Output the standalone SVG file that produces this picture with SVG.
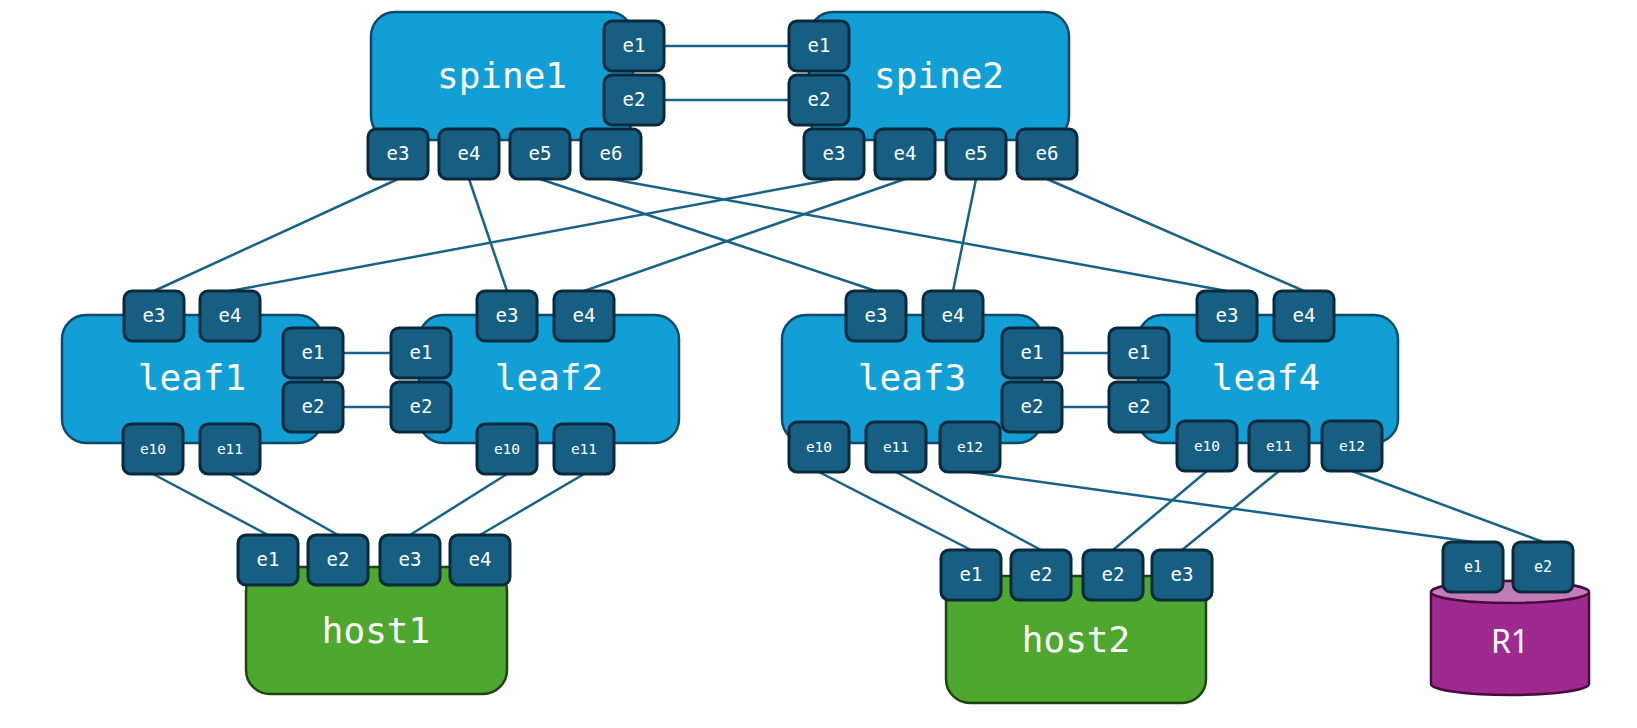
<svg xmlns="http://www.w3.org/2000/svg" width="1637" height="728" viewBox="0 0 1637 728">
<style>
.node{fill:#129fd6;stroke:#0f4a68;stroke-width:2.5}
.host{fill:#4ea72e;stroke:#1c4510;stroke-width:2.5}
.port{fill:#165f82;stroke:#0a2a3c;stroke-width:3}
.lbl{font-family:"DejaVu Sans Mono","Liberation Mono",monospace;font-size:36px;fill:#ffffff;text-anchor:middle}
.pl{font-family:"DejaVu Sans Mono","Liberation Mono",monospace;font-size:19px;fill:#ffffff;text-anchor:middle}
.ps{font-family:"DejaVu Sans Mono","Liberation Mono",monospace;font-size:14.5px;fill:#ffffff;text-anchor:middle}
.cn line{stroke:#176388;stroke-width:2.5}
</style>
<defs>
<rect id="p" width="60" height="50" rx="8" class="port"/>
</defs>
<g id="connectors" class="cn">
<line x1="664" y1="46" x2="789" y2="46"/>
<line x1="664" y1="100" x2="789" y2="100"/>
<line x1="343" y1="353" x2="391" y2="353"/>
<line x1="343" y1="407" x2="391" y2="407"/>
<line x1="1062" y1="353" x2="1109" y2="353"/>
<line x1="1062" y1="407" x2="1109" y2="407"/>
<line x1="398" y1="179" x2="154" y2="291"/>
<line x1="469" y1="179" x2="507" y2="291"/>
<line x1="540" y1="179" x2="876" y2="291"/>
<line x1="611" y1="179" x2="1227" y2="291"/>
<line x1="834" y1="179" x2="230" y2="291"/>
<line x1="905" y1="179" x2="584" y2="291"/>
<line x1="976" y1="179" x2="953" y2="291"/>
<line x1="1047" y1="179" x2="1304" y2="291"/>
<line x1="153" y1="474" x2="268" y2="535"/>
<line x1="230" y1="474" x2="338" y2="535"/>
<line x1="507" y1="474" x2="410" y2="535"/>
<line x1="584" y1="474" x2="480" y2="535"/>
<line x1="819" y1="472" x2="971" y2="550"/>
<line x1="896" y1="472" x2="1041" y2="550"/>
<line x1="970" y1="472" x2="1473" y2="542"/>
<line x1="1207" y1="471" x2="1113" y2="550"/>
<line x1="1279" y1="471" x2="1182" y2="550"/>
<line x1="1352" y1="471" x2="1543" y2="542"/>
</g>
<g id="spine1">
<rect x="371" y="12" width="262" height="128" rx="24" class="node"/>
<text x="502" y="88" class="lbl">spine1</text>
<use href="#p" x="604" y="21"/><text x="634" y="52" class="pl">e1</text>
<use href="#p" x="604" y="75"/><text x="634" y="106" class="pl">e2</text>
<use href="#p" x="368" y="129"/><text x="398" y="160" class="pl">e3</text>
<use href="#p" x="439" y="129"/><text x="469" y="160" class="pl">e4</text>
<use href="#p" x="510" y="129"/><text x="540" y="160" class="pl">e5</text>
<use href="#p" x="581" y="129"/><text x="611" y="160" class="pl">e6</text>
</g>
<g id="spine2">
<rect x="809" y="12" width="260" height="128" rx="24" class="node"/>
<text x="939" y="88" class="lbl">spine2</text>
<use href="#p" x="789" y="21"/><text x="819" y="52" class="pl">e1</text>
<use href="#p" x="789" y="75"/><text x="819" y="106" class="pl">e2</text>
<use href="#p" x="804" y="129"/><text x="834" y="160" class="pl">e3</text>
<use href="#p" x="875" y="129"/><text x="905" y="160" class="pl">e4</text>
<use href="#p" x="946" y="129"/><text x="976" y="160" class="pl">e5</text>
<use href="#p" x="1017" y="129"/><text x="1047" y="160" class="pl">e6</text>
</g>
<g id="leaf1">
<rect x="62" y="315" width="260" height="128" rx="24" class="node"/>
<text x="192" y="390" class="lbl">leaf1</text>
<use href="#p" x="124" y="291"/><text x="154" y="322" class="pl">e3</text>
<use href="#p" x="200" y="291"/><text x="230" y="322" class="pl">e4</text>
<use href="#p" x="283" y="328"/><text x="313" y="359" class="pl">e1</text>
<use href="#p" x="283" y="382"/><text x="313" y="413" class="pl">e2</text>
<use href="#p" x="123" y="424"/><text x="153" y="454" class="ps">e10</text>
<use href="#p" x="200" y="424"/><text x="230" y="454" class="ps">e11</text>
</g>
<g id="leaf2">
<rect x="419" y="315" width="260" height="128" rx="24" class="node"/>
<text x="549" y="390" class="lbl">leaf2</text>
<use href="#p" x="477" y="291"/><text x="507" y="322" class="pl">e3</text>
<use href="#p" x="554" y="291"/><text x="584" y="322" class="pl">e4</text>
<use href="#p" x="391" y="328"/><text x="421" y="359" class="pl">e1</text>
<use href="#p" x="391" y="382"/><text x="421" y="413" class="pl">e2</text>
<use href="#p" x="477" y="424"/><text x="507" y="454" class="ps">e10</text>
<use href="#p" x="554" y="424"/><text x="584" y="454" class="ps">e11</text>
</g>
<g id="leaf3">
<rect x="782" y="315" width="260" height="128" rx="24" class="node"/>
<text x="912" y="390" class="lbl">leaf3</text>
<use href="#p" x="846" y="291"/><text x="876" y="322" class="pl">e3</text>
<use href="#p" x="923" y="291"/><text x="953" y="322" class="pl">e4</text>
<use href="#p" x="1002" y="328"/><text x="1032" y="359" class="pl">e1</text>
<use href="#p" x="1002" y="382"/><text x="1032" y="413" class="pl">e2</text>
<use href="#p" x="789" y="422"/><text x="819" y="452" class="ps">e10</text>
<use href="#p" x="866" y="422"/><text x="896" y="452" class="ps">e11</text>
<use href="#p" x="940" y="422"/><text x="970" y="452" class="ps">e12</text>
</g>
<g id="leaf4">
<rect x="1138" y="315" width="260" height="128" rx="24" class="node"/>
<text x="1266" y="390" class="lbl">leaf4</text>
<use href="#p" x="1197" y="291"/><text x="1227" y="322" class="pl">e3</text>
<use href="#p" x="1274" y="291"/><text x="1304" y="322" class="pl">e4</text>
<use href="#p" x="1109" y="328"/><text x="1139" y="359" class="pl">e1</text>
<use href="#p" x="1109" y="382"/><text x="1139" y="413" class="pl">e2</text>
<use href="#p" x="1177" y="421"/><text x="1207" y="451" class="ps">e10</text>
<use href="#p" x="1249" y="421"/><text x="1279" y="451" class="ps">e11</text>
<use href="#p" x="1322" y="421"/><text x="1352" y="451" class="ps">e12</text>
</g>
<g id="host1">
<rect x="246" y="567" width="261" height="127" rx="24" class="host"/>
<text x="376" y="643" class="lbl">host1</text>
<use href="#p" x="238" y="535"/><text x="268" y="566" class="pl">e1</text>
<use href="#p" x="308" y="535"/><text x="338" y="566" class="pl">e2</text>
<use href="#p" x="380" y="535"/><text x="410" y="566" class="pl">e3</text>
<use href="#p" x="450" y="535"/><text x="480" y="566" class="pl">e4</text>
</g>
<g id="host2">
<rect x="946" y="576" width="260" height="127" rx="24" class="host"/>
<text x="1076" y="652" class="lbl">host2</text>
<use href="#p" x="941" y="550"/><text x="971" y="581" class="pl">e1</text>
<use href="#p" x="1011" y="550"/><text x="1041" y="581" class="pl">e2</text>
<use href="#p" x="1083" y="550"/><text x="1113" y="581" class="pl">e2</text>
<use href="#p" x="1152" y="550"/><text x="1182" y="581" class="pl">e3</text>
</g>
<g id="R1">
<path d="M1431 592 A79 11 0 0 1 1589 592 L1589 684 A79 11 0 0 1 1431 684 Z" fill="#9f2a8f" stroke="#4a0a40" stroke-width="2.5"/>
<ellipse cx="1510" cy="592" rx="79" ry="11" fill="#c47bb9" stroke="#4a0a40" stroke-width="2.5"/>
<text x="1510" y="653" font-family="Noto Sans, Liberation Sans, sans-serif" font-size="32" fill="#ffffff" text-anchor="middle">R1</text>
<use href="#p" x="1443" y="542"/><text x="1473" y="572" class="ps" style="font-size:15px">e1</text>
<use href="#p" x="1513" y="542"/><text x="1543" y="572" class="ps" style="font-size:15px">e2</text>
</g>
</svg>
